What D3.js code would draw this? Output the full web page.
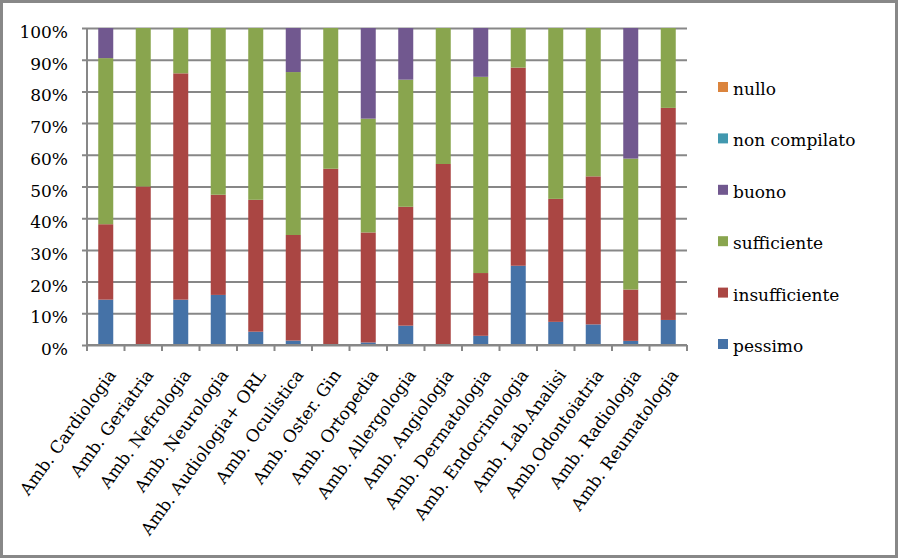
<!DOCTYPE html>
<html>
<head>
<meta charset="utf-8">
<script src="https://cdn.jsdelivr.net/npm/d3@7"></script>
<style>
  html, body { margin: 0; padding: 0; background: #fff; }
  svg { display: block; }
  text { font-family: "DejaVu Serif", serif; fill: #000; }
</style>
</head>
<body>
<svg id="chart" width="898" height="558"></svg>
<script>
const categories = ["Amb. Cardiologia", "Amb. Geriatria", "Amb. Nefrologia", "Amb. Neurologia",
  "Amb. Audiologia+ ORL", "Amb. Oculistica", "Amb. Oster. Gin", "Amb. Ortopedia",
  "Amb. Allergologia", "Amb. Angiologia", "Amb. Dermatologia", "Amb. Endocrinologia",
  "Amb. Lab.Analisi", "Amb.Odontoiatria", "Amb. Radiologia", "Amb. Reumatologia"];

const pessimo       = [14.3, 0, 14.3, 15.8, 4.2, 1.4, 0, 0.8, 6.1, 0, 2.9, 25.0, 7.3, 6.5, 1.3, 7.9];
const insufficiente = [23.8, 50, 71.4, 31.6, 41.6, 33.3, 55.6, 34.7, 37.5, 57.1, 19.8, 62.5, 38.8, 46.7, 16.2, 66.9];
const sufficiente   = [52.4, 50, 14.3, 52.6, 54.2, 51.4, 44.4, 35.9, 40.1, 42.9, 61.9, 12.5, 53.9, 46.8, 41.3, 25.2];
const buono         = [9.5, 0, 0, 0, 0, 13.9, 0, 28.6, 16.3, 0, 15.4, 0, 0, 0, 41.2, 0];
const nonCompilato  = [0, 0, 0, 0, 0, 0, 0, 0, 0, 0, 0, 0, 0, 0, 0, 0];
const nullo         = [0, 0, 0, 0, 0, 0, 0, 0, 0, 0, 0, 0, 0, 0, 0, 0];

const seriesNames = ["pessimo", "insufficiente", "sufficiente", "buono", "non compilato", "nullo"];
const seriesValues = [pessimo, insufficiente, sufficiente, buono, nonCompilato, nullo];
const seriesColors = ["#4572A7", "#AA4643", "#89A54E", "#71588F", "#4198AF", "#DB843D"];
const yTicks = [0, 10, 20, 30, 40, 50, 60, 70, 80, 90, 100];

const svg = d3.select("#chart");
const W = 898, H = 558;
const margin = { left: 87, right: 211, top: 28, bottom: 213 };
const x0 = margin.left, x1 = W - margin.right, y0 = H - margin.bottom, y1 = margin.top;

// outer frame
svg.append("rect").attr("x", 1.5).attr("y", 1.5).attr("width", W - 3).attr("height", H - 3)
  .attr("fill", "#fff").attr("stroke", "#888").attr("stroke-width", 3);

const rows = categories.map((c, i) => {
  const r = { cat: c };
  seriesNames.forEach((s, k) => r[s] = seriesValues[k][i]);
  return r;
});
// normalise to 100%
rows.forEach(r => {
  const tot = d3.sum(seriesNames, s => r[s]);
  seriesNames.forEach(s => r[s] = r[s] / tot * 100);
});

const x = d3.scaleBand().domain(categories).range([x0, x1]).paddingInner(0.6).paddingOuter(0.3);
const y = d3.scaleLinear().domain([0, 100]).range([y0, y1]);

// gridlines
const yAxis = d3.axisLeft(y).tickValues(yTicks).tickSize(-(x1 - x0)).tickPadding(0).tickFormat(d => d + "%");
const gy = svg.append("g").attr("transform", `translate(${x0},0)`).call(yAxis);
gy.select(".domain").remove();
gy.selectAll(".tick line").attr("stroke", "#878787").attr("stroke-width", 2).attr("x1", -5);
gy.selectAll(".tick text").attr("x", -19).attr("dy", "0.56em").attr("y", 0)
  .style("font-size", "17px").style("font-family", "DejaVu Serif").attr("fill", "#000");

// stacked bars
const stack = d3.stack().keys(seriesNames);
const stacked = stack(rows);
svg.append("g").selectAll("g").data(stacked).join("g")
  .attr("fill", (d, i) => seriesColors[i])
  .selectAll("rect").data(d => d).join("rect")
  .attr("x", d => x(d.data.cat))
  .attr("width", x.bandwidth())
  .attr("y", d => y(d[1]))
  .attr("height", d => Math.max(0, y(d[0]) - y(d[1])));

// axes lines
svg.append("line").attr("x1", x0).attr("x2", x0).attr("y1", y1).attr("y2", y0 + 6)
  .attr("stroke", "#878787").attr("stroke-width", 2);
const xb = d3.scaleBand().domain(categories).range([x0, x1]);
const xAxis = d3.axisBottom(xb).tickSize(0).tickFormat("");
const gx = svg.append("g").attr("transform", `translate(0,${y0})`).call(xAxis);
gx.select(".domain").attr("stroke", "#878787").attr("stroke-width", 2).attr("d", `M${x0},0H${x1}`);
// tick marks at band boundaries
const boundaries = categories.map(c => xb(c)).concat([x1]);
svg.append("g").selectAll("line").data(boundaries).join("line")
  .attr("x1", d => d).attr("x2", d => d).attr("y1", y0).attr("y2", y0 + 6)
  .attr("stroke", "#878787").attr("stroke-width", 2);

// x labels
svg.append("g").selectAll("text").data(categories).join("text")
  .attr("transform", d => `translate(${xb(d) + xb.bandwidth() / 2 + 11},${y0 + 30}) rotate(-54)`)
  .attr("text-anchor", "end")
  .style("font-size", "17px")
  .text(d => d);

// legend
const legendOrder = seriesNames.map((s, i) => i).reverse();
const lg = svg.append("g");
legendOrder.forEach((k, j) => {
  const by = 95 + j * 51.4;
  lg.append("rect").attr("x", 718).attr("y", by - 13).attr("width", 10).attr("height", 10)
    .attr("fill", seriesColors[k]);
  lg.append("text").attr("x", 733).attr("y", by).style("font-size", "17px").text(seriesNames[k]);
});
</script>
</body>
</html>
